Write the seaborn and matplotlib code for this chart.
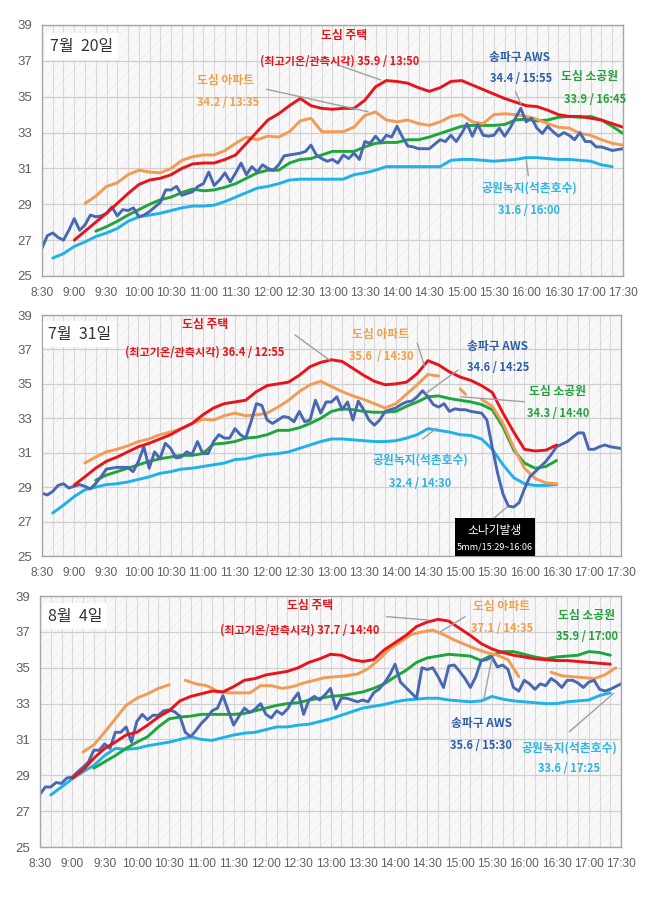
import numpy as np
import pandas as pd
import matplotlib
matplotlib.use("Agg")
import matplotlib.pyplot as plt
from matplotlib.patches import Rectangle
import seaborn as sns

# ---------------- data ----------------
XTICK_LABELS = ["8:30", "9:00", "9:30", "10:00", "10:30", "11:00", "11:30", "12:00", "12:30",
                "13:00", "13:30", "14:00", "14:30", "15:00", "15:30", "16:00", "16:30", "17:00", "17:30"]
YTICKS = [25, 27, 29, 31, 33, 35, 37, 39]
PANELS = ["7월  20일", "7월  31일", "8월  4일"]
STATIONS = ["공원녹지(석촌호수)", "도심 소공원", "도심 아파트", "송파구 AWS", "도심 주택"]

# ---- 7월 20일 ----
JUL20_HOUSE = [27.0, 27.5, 28.0, 28.5, 29.05, 29.6,
               30.1, 30.35, 30.45, 30.65, 31.0, 31.25,
               31.3, 31.3, 31.5, 31.75, 32.4, 33.05,
               33.7, 34.05, 34.5, 34.9, 34.5, 34.35,
               34.3, 34.35, 34.35, 34.8, 35.55, 35.9,
               35.85, 35.75, 35.5, 35.3, 35.5, 35.85,
               35.9, 35.65, 35.4, 35.15, 34.9, 34.7,
               34.5, 34.45, 34.25, 34.0, 33.9, 33.9,
               33.8, 33.7, 33.5, 33.3]                      # 9:00, every 10 min
JUL20_APT = [29.05, 29.45, 30.0, 30.2, 30.65,
             30.9, 30.8, 30.75, 31.0, 31.45, 31.65,
             31.75, 31.75, 32.0, 32.4, 32.75, 32.6,
             32.8, 32.75, 33.05, 33.65, 33.8, 33.05,
             33.05, 33.05, 33.3, 33.95, 34.15, 33.7,
             33.6, 33.7, 33.5, 33.4, 33.6, 33.9,
             34.0, 33.6, 33.5, 34.0, 34.05, 34.0,
             33.9, 33.75, 33.5, 33.3, 33.25, 32.95,
             32.85, 32.6, 32.4, 32.3]                        # 9:10, every 10 min
JUL20_PARK = [27.5, 27.75, 28.05, 28.4,
              28.7, 29.0, 29.25, 29.4, 29.65, 29.85,
              29.75, 29.8, 29.95, 30.15, 30.45, 30.75,
              30.9, 30.9, 31.3, 31.5, 31.55, 31.75,
              31.95, 31.95, 31.95, 32.2, 32.4, 32.45,
              32.45, 32.6, 32.6, 32.75, 32.95, 33.15,
              33.35, 33.4, 33.4, 33.4, 33.45, 33.7,
              33.75, 33.65, 33.7, 33.85, 33.9, 33.85,
              33.9, 33.7, 33.35, 32.95]                      # 9:20, every 10 min
JUL20_LAKE = [26.0, 26.25,
              26.65, 26.9, 27.2, 27.4, 27.65, 28.05,
              28.3, 28.4, 28.5, 28.65, 28.8, 28.9,
              28.9, 28.95, 29.15, 29.4, 29.65, 29.9,
              30.0, 30.15, 30.35, 30.4, 30.4, 30.4,
              30.4, 30.4, 30.65, 30.75, 30.9, 31.1,
              31.1, 31.1, 31.1, 31.1, 31.1, 31.45,
              31.5, 31.5, 31.45, 31.4, 31.45, 31.5,
              31.6, 31.6, 31.55, 31.5, 31.5, 31.45,
              31.4, 31.2, 31.1]                              # 8:40, every 10 min
JUL20_AWS = [26.55, 27.25, 27.4, 27.15, 27.0, 27.55, 28.2, 27.55, 27.85, 28.4, 28.3, 28.35,
             28.5, 28.85, 28.35, 28.7, 28.65, 28.8, 28.3, 28.4, 28.6, 28.85, 29.1, 29.8,
             29.8, 30.0, 29.5, 29.6, 29.7, 30.0, 30.15, 30.8, 30.05, 30.35, 30.75, 30.25,
             30.75, 31.3, 30.65, 31.1, 30.8, 31.2, 31.0, 30.9, 31.2, 31.7, 31.75, 31.8,
             31.85, 31.95, 32.3, 31.75, 31.55, 31.4, 31.5, 31.3, 31.75, 31.55, 31.85, 31.5,
             32.5, 32.4, 32.8, 32.45, 32.85, 32.75, 33.35, 32.75, 32.25, 32.2, 32.1, 32.1,
             32.1, 32.35, 32.6, 32.5, 32.85, 32.5, 32.95, 33.5, 32.8, 33.45, 32.85, 32.8,
             32.85, 33.25, 32.8, 33.25, 33.8, 34.35, 33.6, 33.8, 33.25, 32.95, 33.35, 33.05,
             32.8, 33.0, 32.85, 32.6, 33.0, 32.5, 32.5, 32.2, 32.2, 32.1, 32.0, 32.05,
             32.1]                                            # 8:30, every 5 min

# ---- 7월 31일 ----
JUL31_HOUSE = [29.12, 29.6, 30.1, 30.5, 30.75, 31.05,
               31.35, 31.55, 31.8, 32.05, 32.4, 32.7,
               33.2, 33.6, 33.85, 33.95, 34.05, 34.55,
               34.9, 35.0, 35.1, 35.5, 36.0, 36.25,
               36.4, 36.3, 35.9, 35.5, 35.15, 34.95,
               35.0, 35.1, 35.6, 36.35, 36.1, 35.7,
               35.4, 35.2, 34.9, 34.5, 33.3, 32.2,
               31.2, 31.1, 31.15, 31.45]                     # 9:00, every 10 min
JUL31_APT_A = [30.4, 30.75, 31.05, 31.2, 31.4,
               31.65, 31.8, 32.05, 32.2, 32.4, 32.7,
               32.95, 32.9, 33.15, 33.3, 33.15, 33.2,
               33.3, 33.65, 34.05, 34.55, 34.95, 35.15,
               34.85, 34.55, 34.3, 34.1, 33.85, 33.6,
               33.85, 34.4, 34.95, 35.55, 35.45]             # 9:10, every 10 min
JUL31_APT_B = [34.7, 34.4]                                   # 15:00, every 5 min
JUL31_APT_C = [34.1, 33.7, 32.7, 31.3, 30.1, 29.5, 29.25, 29.2]   # 15:20, every 10 min
JUL31_PARK = [29.4, 29.7, 29.9, 30.1,
              30.3, 30.5, 30.65, 30.75, 30.85, 30.85,
              30.95, 31.5, 31.55, 31.65, 31.85, 31.9,
              32.05, 32.3, 32.3, 32.45, 32.7, 33.0,
              33.4, 33.55, 33.5, 33.4, 33.35, 33.35,
              33.4, 33.7, 33.95, 34.25, 34.3, 34.15,
              34.05, 33.95, 33.8, 33.5, 32.5, 31.15,
              30.4, 30.1, 30.2, 30.55]                       # 9:20, every 10 min
JUL31_LAKE = [27.5, 27.95,
              28.45, 28.85, 29.0, 29.15, 29.2, 29.3,
              29.45, 29.6, 29.8, 29.9, 30.05, 30.1,
              30.2, 30.3, 30.4, 30.6, 30.65, 30.8,
              30.9, 30.95, 31.05, 31.25, 31.45, 31.65,
              31.8, 31.8, 31.75, 31.7, 31.65, 31.65,
              31.7, 31.85, 32.05, 32.4, 32.3, 32.2,
              32.05, 32.0, 31.8, 31.2, 30.3, 29.55,
              29.2, 29.1, 29.1, 29.15]                       # 8:40, every 10 min
JUL31_AWS = [28.65, 28.55, 28.75, 29.1, 29.2, 28.95, 29.05, 29.15, 29.05, 28.9, 29.2, 29.6,
             30.05, 30.1, 30.15, 30.15, 30.15, 29.9, 30.5, 31.35, 30.1, 31.05, 30.65, 31.55,
             31.25, 30.7, 30.75, 31.05, 30.9, 31.65, 30.95, 30.95, 31.65, 32.05, 31.85, 31.85,
             32.4, 32.05, 31.85, 32.8, 33.85, 33.75, 32.9, 32.7, 32.9, 33.1, 33.05, 32.8,
             33.4, 32.8, 32.9, 34.05, 33.3, 33.95, 33.95, 34.25, 33.5, 33.95, 32.9, 34.0,
             33.5, 32.9, 32.6, 32.9, 33.4, 33.5, 33.6, 33.8, 33.95, 34.0, 34.25, 34.6,
             34.25, 33.8, 33.65, 33.85, 33.4, 33.55, 33.5, 33.5, 33.4, 33.35, 33.3, 32.9,
             31.3, 29.8, 28.6, 27.9, 27.85, 28.1, 28.9, 29.6, 29.9, 30.2, 30.5, 30.9,
             31.35, 31.5, 31.65, 31.9, 32.15, 32.15, 31.2, 31.2, 31.35, 31.45, 31.35, 31.3,
             31.25]                                           # 8:30, every 5 min

# ---- 8월 4일 ----
AUG04_HOUSE = [28.85, 29.3, 29.95, 30.5, 30.85, 31.25,
               31.4, 31.8, 32.25, 32.6, 33.15, 33.4,
               33.55, 33.7, 33.65, 33.95, 34.3, 34.4,
               34.6, 34.7, 34.8, 35.0, 35.3, 35.5,
               35.75, 35.7, 35.45, 35.35, 35.45, 36.0,
               36.4, 36.8, 37.3, 37.55, 37.7, 37.6,
               37.2, 36.8, 36.35, 36.05, 35.85, 35.7,
               35.6, 35.5, 35.45, 35.4, 35.4, 35.35,
               35.3, 35.25, 35.2]                            # 9:00, every 10 min
AUG04_APT_A = [30.3, 30.7, 31.4, 32.15, 32.9, 33.3, 33.55, 33.85, 34.05]   # 9:10, every 10 min
AUG04_APT_B = [34.3, 34.1, 34.0, 33.7, 33.6, 33.6, 33.6, 34.0,
               34.0, 33.85, 33.95, 34.15, 34.3, 34.45,
               34.5, 34.55, 34.65, 34.95, 35.45, 36.05,
               36.45, 36.85, 37.0, 37.1, 36.85, 36.55,
               36.3, 36.05, 35.85, 35.7, 35.45, 34.5]        # 10:45, every 10 min
AUG04_APT_C = [34.75, 34.55, 34.5, 34.45, 34.4, 34.6, 35.0]  # 16:25, every 10 min
AUG04_PARK = [29.4, 29.75, 30.1, 30.5,
              30.85, 31.15, 31.7, 32.15, 32.25, 32.3,
              32.4, 32.4, 32.4, 32.4, 32.45, 32.6,
              32.75, 32.9, 33.0, 33.05, 33.2, 33.3,
              33.4, 33.45, 33.55, 33.65, 33.85, 34.1,
              34.5, 34.85, 35.3, 35.55, 35.65, 35.75,
              35.7, 35.65, 35.4, 35.7, 35.9, 35.9,
              35.75, 35.6, 35.5, 35.6, 35.65, 35.7,
              35.9, 35.85, 35.7]                             # 9:20, every 10 min
AUG04_LAKE = [27.9, 28.35,
              28.8, 29.2, 29.55, 30.1, 30.5, 30.45,
              30.5, 30.65, 30.75, 30.85, 31.0, 31.15,
              31.0, 30.95, 31.1, 31.25, 31.35, 31.4,
              31.55, 31.7, 31.7, 31.8, 31.85, 32.0,
              32.15, 32.35, 32.55, 32.75, 32.85, 32.95,
              33.1, 33.2, 33.25, 33.3, 33.3, 33.2,
              33.15, 33.1, 33.15, 33.4, 33.25, 33.15,
              33.1, 33.05, 33.0, 33.0, 33.1, 33.15,
              33.2, 33.45, 33.6]                             # 8:40, every 10 min
AUG04_AWS = [27.95, 28.35, 28.35, 28.6, 28.55, 28.85, 28.9, 29.2, 29.45, 29.75, 30.4, 30.4,
             30.75, 30.5, 31.4, 31.4, 31.7, 30.85, 32.0, 32.4, 32.1, 32.35, 32.35, 32.6,
             32.65, 32.55, 32.3, 31.4, 31.15, 31.5, 31.9, 32.2, 32.6, 32.75, 33.45, 32.6,
             31.8, 32.3, 32.75, 32.5, 32.7, 33.0, 32.4, 32.2, 32.6, 32.4, 32.7, 33.2,
             33.6, 32.4, 33.2, 33.4, 33.2, 33.5, 33.85, 32.7, 33.3, 33.3, 33.2, 33.1,
             33.2, 33.1, 33.6, 33.8, 34.15, 34.6, 35.2, 34.2, 33.9, 33.6, 33.3, 35.0,
             34.9, 35.0, 34.5, 33.9, 35.1, 35.15, 34.8, 34.4, 33.9, 34.5, 35.4, 35.45,
             35.6, 35.05, 35.15, 34.9, 33.9, 33.7, 34.3, 34.1, 33.8, 34.1, 34.0, 34.4,
             34.2, 33.9, 34.3, 34.3, 34.15, 33.9, 34.2, 34.3, 33.8, 33.7, 33.8, 33.95,
             34.1]                                            # 8:30, every 5 min

# (panel, station, start, step minutes, values)
SPEC = [
    (PANELS[0], "공원녹지(석촌호수)", "8:40", 10, JUL20_LAKE),
    (PANELS[0], "도심 소공원", "9:20", 10, JUL20_PARK),
    (PANELS[0], "도심 아파트", "9:10", 10, JUL20_APT),
    (PANELS[0], "송파구 AWS", "8:30", 5, JUL20_AWS),
    (PANELS[0], "도심 주택", "9:00", 10, JUL20_HOUSE),
    (PANELS[1], "공원녹지(석촌호수)", "8:40", 10, JUL31_LAKE),
    (PANELS[1], "도심 소공원", "9:20", 10, JUL31_PARK),
    (PANELS[1], "도심 아파트", "9:10", 10, JUL31_APT_A),
    (PANELS[1], "도심 아파트", "15:00", 5, JUL31_APT_B),
    (PANELS[1], "도심 아파트", "15:20", 10, JUL31_APT_C),
    (PANELS[1], "송파구 AWS", "8:30", 5, JUL31_AWS),
    (PANELS[1], "도심 주택", "9:00", 10, JUL31_HOUSE),
    (PANELS[2], "공원녹지(석촌호수)", "8:40", 10, AUG04_LAKE),
    (PANELS[2], "도심 소공원", "9:20", 10, AUG04_PARK),
    (PANELS[2], "도심 아파트", "9:10", 10, AUG04_APT_A),
    (PANELS[2], "도심 아파트", "10:45", 10, AUG04_APT_B),
    (PANELS[2], "도심 아파트", "16:25", 10, AUG04_APT_C),
    (PANELS[2], "송파구 AWS", "8:30", 5, AUG04_AWS),
    (PANELS[2], "도심 주택", "9:00", 10, AUG04_HOUSE),
]

LINE_COLORS = {"공원녹지(석촌호수)": "#1fb1ea", "도심 소공원": "#1ea53c", "도심 아파트": "#f29b55",
               "송파구 AWS": "#4868b2", "도심 주택": "#e8141b"}
TEXT_COLORS = {"공원녹지(석촌호수)": "#2db3e6", "도심 소공원": "#22a23c", "도심 아파트": "#f0a04b",
               "송파구 AWS": "#2f5ea8", "도심 주택": "#e3151b"}

# annotations: (text, clock, value, station, fontsize)
ANNOTS = {
    PANELS[0]: [("도심 주택", "13:11", 38.44, "도심 주택", 8.5),
                ("(최고기온/관측시각) 35.9 / 13:50", "13:07", 36.99, "도심 주택", 8),
                ("도심 아파트", "11:21", 35.88, "도심 아파트", 8.5),
                ("34.2 / 13:35", "11:23", 34.7, "도심 아파트", 8),
                ("송파구 AWS", "15:54", 37.2, "송파구 AWS", 8.5),
                ("34.4 / 15:55", "15:55", 36.04, "송파구 AWS", 8),
                ("도심 소공원", "16:59", 36.1, "도심 소공원", 8.5),
                ("33.9 / 16:45", "17:04", 34.87, "도심 소공원", 8),
                ("공원녹지(석촌호수)", "16:03", 29.9, "공원녹지(석촌호수)", 8.5),
                ("31.6 / 16:00", "16:03", 28.68, "공원녹지(석촌호수)", 8)],
    PANELS[1]: [("도심 주택", "11:02", 38.42, "도심 주택", 8.5),
                ("(최고기온/관측시각) 36.4 / 12:55", "11:02", 36.85, "도심 주택", 8),
                ("도심 아파트", "13:46", 37.84, "도심 아파트", 8.5),
                ("35.6  / 14:30", "13:46", 36.58, "도심 아파트", 8),
                ("송파구 AWS", "15:35", 37.16, "송파구 AWS", 8.5),
                ("34.6 / 14:25", "15:35", 35.94, "송파구 AWS", 8),
                ("도심 소공원", "16:31", 34.54, "도심 소공원", 8.5),
                ("34.3 / 14:40", "16:31", 33.29, "도심 소공원", 8),
                ("공원녹지(석촌호수)", "14:23", 30.57, "공원녹지(석촌호수)", 8.5),
                ("32.4 / 14:30", "14:23", 29.22, "공원녹지(석촌호수)", 8)],
    PANELS[2]: [("도심 주택", "12:41", 38.5, "도심 주택", 8.5),
                ("(최고기온/관측시각) 37.7 / 14:40", "12:31", 37.1, "도심 주택", 8),
                ("도심 아파트", "15:39", 38.4, "도심 아파트", 8.5),
                ("37.1 / 14:35", "15:39", 37.2, "도심 아파트", 8),
                ("도심 소공원", "16:58", 37.94, "도심 소공원", 8.5),
                ("35.9 / 17:00", "16:58", 36.73, "도심 소공원", 8),
                ("송파구 AWS", "15:20", 31.9, "송파구 AWS", 8.5),
                ("35.6 / 15:30", "15:20", 30.69, "송파구 AWS", 8),
                ("공원녹지(석촌호수)", "16:42", 30.5, "공원녹지(석촌호수)", 8.5),
                ("33.6 / 17:25", "16:42", 29.39, "공원녹지(석촌호수)", 8)],
}
# leader lines: (clock0, v0, clock1, v1)
LEADERS = {
    PANELS[0]: [("13:05", 36.77, "13:45", 35.93), ("11:59", 35.41, "13:33", 34.16),
                ("15:50", 35.3, "15:55", 34.6), ("16:00", 31.5, "16:02", 30.6)],
    PANELS[1]: [("12:26", 37.84, "12:58", 36.39), ("14:20", 37.37, "14:27", 35.98),
                ("14:58", 35.8, "14:28", 34.45), ("16:00", 33.96, "15:01", 34.25),
                ("14:25", 31.8, "14:38", 32.42), ("15:32", 27.22, "15:44", 27.86)],
    PANELS[2]: [("13:52", 37.85, "14:31", 37.66), ("15:05", 37.85, "14:42", 37.0),
                ("15:22", 33.1, "15:30", 35.53), ("16:42", 31.43, "17:23", 33.57)],
}
SHOWER_TEXT = ["소나기발생", "5mm/15:29~16:06"]


def to_min(clock):
    h, m = map(int, clock.split(":"))
    return h * 60 + m - (8 * 60 + 30)


rows = []
for panel, station, start, step, vals in SPEC:
    t0 = to_min(start)
    seg = f"{panel}|{station}|{start}"
    for i, v in enumerate(vals):
        rows.append({"panel": panel, "station": station, "seg": seg, "t": t0 + i * step, "v": v})
df = pd.DataFrame(rows)

# ---------------- drawing ----------------
sns.set_theme(style="white")
plt.rcParams["font.family"] = ["Noto Sans CJK KR", "DejaVu Sans"]
plt.rcParams["hatch.linewidth"] = 0.5

fig = plt.figure(figsize=(6.58, 8.99), dpi=100)
positions = [[0.0638, 0.6930, 0.8830, 0.2792],
             [0.0638, 0.3815, 0.8799, 0.2681],
             [0.0608, 0.0578, 0.8830, 0.2792]]
date_pos = [(0.0138, 0.914), (0.0104, 0.921), (0.0138, 0.920)]
TICK_FONT = ["Liberation Sans", "DejaVu Sans"]

for k, panel in enumerate(PANELS):
    ax = fig.add_axes(positions[k])
    ax.set_facecolor("#f8f8f8")
    ax.add_patch(Rectangle((0, 0), 1, 1, transform=ax.transAxes, facecolor="#f8f8f8",
                           edgecolor="#ededed", hatch="///", lw=0, zorder=0))
    ax.set_axisbelow(True)

    d = df[df["panel"] == panel]
    sns.lineplot(data=d, x="t", y="v", hue="station", hue_order=STATIONS, units="seg",
                 estimator=None, palette=LINE_COLORS, legend=False, linewidth=2.1, ax=ax)

    ax.set_xlim(0, 540)
    ax.set_ylim(25, 39)
    ax.set_xticks([to_min(s) for s in XTICK_LABELS])
    ax.set_xticklabels(XTICK_LABELS, family=TICK_FONT, fontsize=8.6)
    ax.set_xticks(np.arange(0, 541, 10), minor=True)
    ax.set_yticks(YTICKS)
    ax.set_yticklabels([str(y) for y in YTICKS], family=TICK_FONT, fontsize=9.5)
    ax.tick_params(axis="both", which="both", length=0, colors="#5f5f5f")
    ax.tick_params(axis="x", pad=8)
    ax.tick_params(axis="y", pad=7)
    ax.grid(True, which="minor", axis="x", color="#d9d9d9", lw=0.8)
    ax.grid(True, which="major", axis="x", color="#d9d9d9", lw=0.8)
    ax.grid(True, which="major", axis="y", color="#d0d0d0", lw=0.9)
    ax.set_xlabel("")
    ax.set_ylabel("")
    for sp in ax.spines.values():
        sp.set_color("#a6a6a6")
        sp.set_linewidth(1.0)

    ax.text(date_pos[k][0], date_pos[k][1], panel, transform=ax.transAxes, ha="left", va="center",
            fontsize=11.5, color="#333333",
            bbox=dict(boxstyle="square,pad=0.3", fc="white", ec="none"), zorder=5)

    for c0, v0, c1, v1 in LEADERS[panel]:
        ax.plot([to_min(c0), to_min(c1)], [v0, v1], color="#a0a0a0", lw=1.0, zorder=4)

    for txt, clock, val, st, fs in ANNOTS[panel]:
        ax.text(to_min(clock), val, txt, ha="center", va="center", fontsize=fs,
                fontweight="bold", color=TEXT_COLORS[st], zorder=6, clip_on=False)

    if k == 1:
        x0, x1 = to_min("14:55"), to_min("16:10")
        ax.add_patch(Rectangle((x0, 25), x1 - x0, 2.22, facecolor="black", edgecolor="none",
                               zorder=7, clip_on=False))
        xc = (x0 + x1) / 2
        ax.text(xc, 26.5, SHOWER_TEXT[0], ha="center", va="center", color="white",
                fontsize=8.5, zorder=8)
        ax.text(xc, 25.5, SHOWER_TEXT[1], ha="center", va="center", color="white",
                fontsize=6.5, zorder=8)

fig.savefig("out.png", dpi=100, facecolor="white")
